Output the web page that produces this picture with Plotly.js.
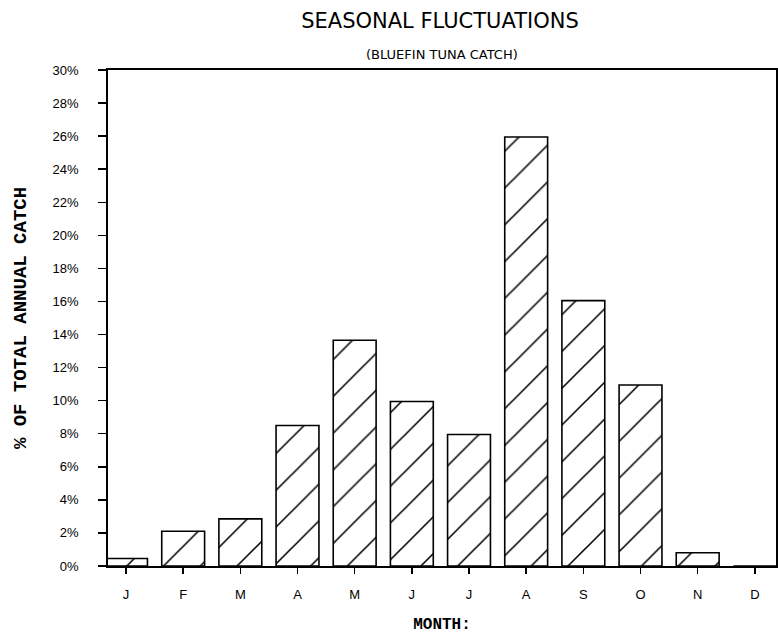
<!DOCTYPE html>
<html>
<head>
<meta charset="utf-8">
<script src="https://cdn.plot.ly/plotly-3.0.1.min.js"></script>
<style>html,body{margin:0;padding:0;background:#fff;}#chart{width:778px;height:634px;}</style>
</head>
<body>
<div id="chart"></div>
<script>
const months = ["J", "F", "M", "A", "M", "J", "J", "A", "S", "O", "N", "D"];
const catchPct = [0.45, 2.1, 2.85, 8.5, 13.65, 9.95, 7.95, 25.95, 16.05, 10.95, 0.8, 0];
const idx = months.map((m, i) => i);

const trace = {
  type: "bar",
  x: idx,
  y: catchPct,
  width: 0.75,
  marker: {
    color: "#ffffff",
    line: {color: "#000000", width: 1.6},
    pattern: {shape: "/", size: 26, solidity: 0.06, fgcolor: "#000000", fgopacity: 1, bgcolor: "#ffffff", fillmode: "overlay"}
  },
  hoverinfo: "none"
};

const layout = {
  width: 778,
  height: 634,
  margin: {l: 108, r: 2, t: 70, b: 68},
  paper_bgcolor: "#ffffff",
  plot_bgcolor: "#ffffff",
  showlegend: false,
  font: {family: "Liberation Sans, Arial, sans-serif", color: "#000000"},
  title: {
    text: "SEASONAL FLUCTUATIONS",
    font: {family: "DejaVu Sans, sans-serif", size: 21, color: "#000"},
    xref: "paper", x: 0.497, xanchor: "center",
    yref: "container", y: 1 - 21/634, yanchor: "middle"
  },
  annotations: [{
    text: "(BLUEFIN TUNA CATCH)",
    xref: "paper", yref: "paper", x: 0.5, y: 1 + 15/496,
    xanchor: "center", yanchor: "middle", showarrow: false,
    font: {family: "DejaVu Sans, sans-serif", size: 13, color: "#000"}
  }],
  xaxis: {
    type: "linear",
    range: [-0.315, 11.37],
    tickmode: "array",
    tickvals: idx,
    ticktext: months,
    ticks: "outside",
    ticklen: 6,
    tickwidth: 1.5,
    tickcolor: "#000",
    showline: true,
    linecolor: "#000",
    linewidth: 1.8,
    mirror: true,
    showgrid: false,
    zeroline: false,
    ticklabelstandoff: 10,
    tickfont: {family: "Liberation Sans, Arial, sans-serif", size: 13, color: "#000"},
    title: {text: "MONTH:", standoff: 16, font: {family: "Liberation Mono, Courier New, monospace", size: 16, weight: "bold", color: "#000"}}
  },
  yaxis: {
    range: [0, 30],
    dtick: 2,
    tick0: 0,
    ticksuffix: "%",
    ticks: "outside",
    ticklen: 8,
    tickwidth: 1.5,
    tickcolor: "#000",
    showline: true,
    linecolor: "#000",
    linewidth: 1.8,
    mirror: true,
    showgrid: false,
    zeroline: false,
    ticklabelstandoff: 17,
    tickfont: {family: "Liberation Sans, Arial, sans-serif", size: 13, color: "#000"},
    title: {text: "% OF TOTAL ANNUAL CATCH", standoff: 21, font: {family: "Liberation Mono, Courier New, monospace", size: 19, weight: "bold", color: "#000"}}
  }
};

Plotly.newPlot("chart", [trace], layout, {displayModeBar: false, staticPlot: true});
</script>
</body>
</html>
